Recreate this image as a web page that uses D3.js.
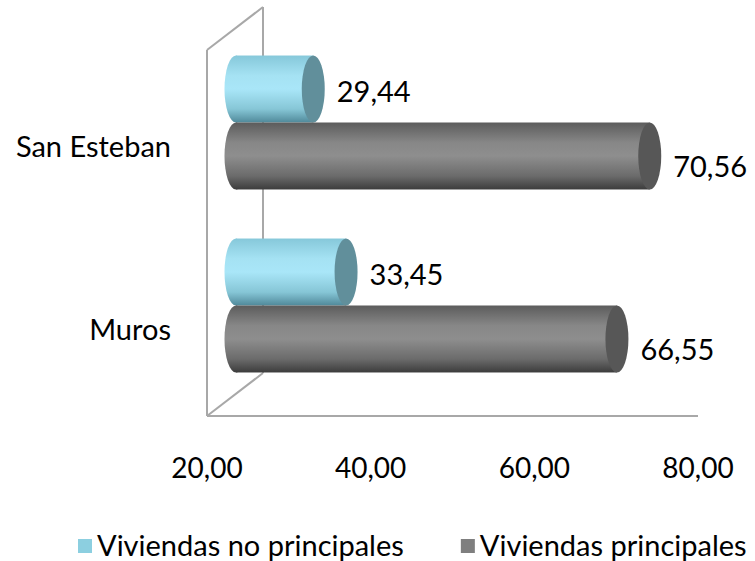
<!DOCTYPE html>
<html>
<head>
<meta charset="utf-8">
<script src="https://cdn.jsdelivr.net/npm/d3@7"></script>
<style>
  body { margin: 0; background: #fff; }
  text { font-family: Lato, "Open Sans", sans-serif; fill: #000; }
</style>
</head>
<body>
<div id="chart"></div>
<script>
// data
var categories = ["San Esteban", "Muros"];
var seriesNames = ["Viviendas no principales", "Viviendas principales"];
var noPrincipales = [29.44, 33.45];
var principales = [70.56, 66.55];
var tickValues = [20, 40, 60, 80];

var W = 755, H = 561;
var svg = d3.select("#chart").append("svg")
    .attr("width", W).attr("height", H);

// front plane of the 3d box, plus depth shift of the back wall
var front = {left: 207, right: 698, top: 50, bottom: 416};
var depth = {dx: 56, dy: -43};
var barShift = {dx: 29, dy: -19};
var capRx = 11.5;

var x = d3.scaleLinear().domain([20, 80]).range([front.left, front.right]);
var y = d3.scaleBand().domain(categories)
    .range([front.top, front.bottom])
    .paddingInner(0.268).paddingOuter(0.134);
var ySeries = d3.scaleBand().domain([0, 1]).range([0, y.bandwidth()]);

var fmt = function(v) { return d3.format(".2f")(v).replace(".", ","); };

// gradients
var defs = svg.append("defs");
function bodyGrad(id, stops) {
    var g = defs.append("linearGradient").attr("id", id)
        .attr("x1", 0).attr("y1", 0).attr("x2", 0).attr("y2", 1);
    stops.forEach(function(s) {
        g.append("stop").attr("offset", s[0]).attr("stop-color", s[1]);
    });
}
bodyGrad("g0", [[0, "#86c8da"], [0.3, "#a5e2f3"], [0.5, "#a9e6f8"], [0.8, "#86c6d6"], [1, "#50899a"]]);
bodyGrad("g1", [[0, "#5c5c5c"], [0.3, "#878787"], [0.5, "#8e8e8e"], [0.8, "#6b6b6b"], [1, "#3c3c3c"]]);
var capColors = ["#618f9b", "#575757"];
var legendColors = ["#8ccfe0", "#7f7f7f"];

// walls
var wallColor = "#a8a8a8";
var walls = svg.append("g").attr("stroke", wallColor).attr("stroke-width", 2).attr("fill", "none");
var bx = front.left + depth.dx;
walls.append("line").attr("x1", bx).attr("y1", front.top + depth.dy)
    .attr("x2", bx).attr("y2", front.bottom + depth.dy);
walls.append("line").attr("x1", front.left).attr("y1", front.top)
    .attr("x2", front.left).attr("y2", front.bottom);
walls.append("line").attr("x1", front.left).attr("y1", front.top)
    .attr("x2", bx).attr("y2", front.top + depth.dy);
walls.append("line").attr("x1", front.left).attr("y1", front.bottom)
    .attr("x2", bx).attr("y2", front.bottom + depth.dy);
walls.append("line").attr("x1", front.left).attr("y1", front.bottom)
    .attr("x2", front.right).attr("y2", front.bottom);

// bars as cylinders
var rows = [];
categories.forEach(function(c, i) {
    rows.push({cat: c, s: 0, v: noPrincipales[i]});
    rows.push({cat: c, s: 1, v: principales[i]});
});

var labelDy = [1, 10];
var bars = svg.append("g");
rows.forEach(function(d) {
    var top = y(d.cat) + ySeries(d.s) + barShift.dy;
    var h = ySeries.bandwidth();
    var cy = top + h / 2;
    var x0 = x(20) + barShift.dx;
    var x1 = x(d.v) + barShift.dx;
    var g = bars.append("g");
    g.append("ellipse").attr("cx", x0).attr("cy", cy).attr("rx", capRx).attr("ry", h / 2)
        .attr("fill", "url(#g" + d.s + ")");
    g.append("rect").attr("x", x0).attr("y", top).attr("width", x1 - x0).attr("height", h)
        .attr("fill", "url(#g" + d.s + ")");
    g.append("ellipse").attr("cx", x1).attr("cy", cy).attr("rx", capRx).attr("ry", h / 2)
        .attr("fill", capColors[d.s]);
    g.append("text").attr("x", x1 + capRx + 12).attr("y", cy + labelDy[d.s])
        .attr("dominant-baseline", "central")
        .style("font-size", "29px")
        .text(fmt(d.v));
});

// category labels
svg.append("g").selectAll("text").data(categories).enter().append("text")
    .attr("x", 171)
    .attr("y", function(d) { return y(d) + y.bandwidth() / 2 + 4; })
    .attr("text-anchor", "end")
    .attr("dominant-baseline", "central")
    .style("font-size", "29px")
    .text(function(d) { return d; });

// value axis labels
svg.append("g").selectAll("text").data(tickValues).enter().append("text")
    .attr("x", function(d) { return x(d); })
    .attr("y", 478)
    .attr("text-anchor", "middle")
    .style("font-size", "28px")
    .text(fmt);

// legend
var legend = svg.append("g");
var lx = 78;
seriesNames.forEach(function(name, i) {
    legend.append("rect").attr("x", lx).attr("y", 539).attr("width", 14).attr("height", 14)
        .attr("fill", legendColors[i]);
    var t = legend.append("text").attr("x", lx + 19).attr("y", 556)
        .style("font-size", "29px").text(name);
    lx += 19 + t.node().getComputedTextLength() + 57;
});
</script>
</body>
</html>
